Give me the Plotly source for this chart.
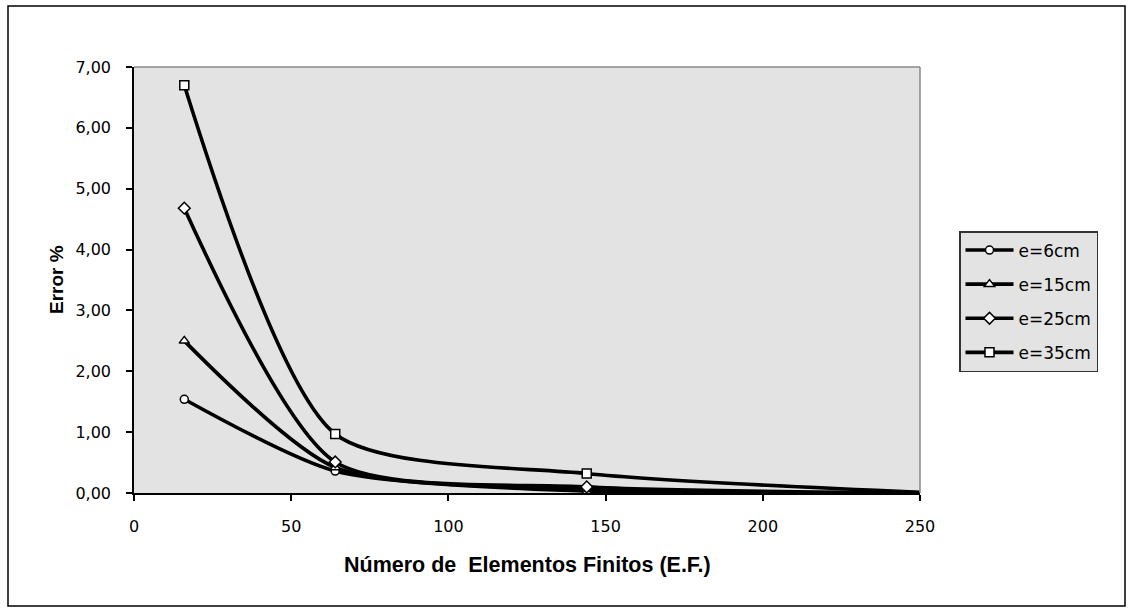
import plotly.graph_objects as go

# Data
n_elements = [16, 64, 144, 256]
err_6cm = [1.54, 0.36, 0.03, 0.0]
err_15cm = [2.50, 0.42, 0.06, 0.0]
err_25cm = [4.68, 0.51, 0.10, 0.0]
err_35cm = [6.70, 0.97, 0.32, 0.0]
series_names = ["e=6cm", "e=15cm", "e=25cm", "e=35cm"]
x_ticks = [0, 50, 100, 150, 200, 250]
y_ticks = [0, 1, 2, 3, 4, 5, 6, 7]
y_tick_labels = ["0,00", "1,00", "2,00", "3,00", "4,00", "5,00", "6,00", "7,00"]

W, H = 1133, 613
L, R, T, B = 134, 920, 67, 493
pw, ph = R - L, B - T

def px_x(p):
    return (p - L) / pw

def px_y(p):
    return (B - p) / ph

FONT = "DejaVu Sans"
TFONT = "Liberation Sans"
symbols = ["circle", "triangle-up", "diamond", "square"]
sizes = [8, 9, 9, 9]
series = [err_6cm, err_15cm, err_25cm, err_35cm]

fig = go.Figure()
for name, ys, sym, sz in zip(series_names, series, symbols, sizes):
    fig.add_trace(go.Scatter(
        x=n_elements, y=ys, name=name, mode="lines+markers",
        line=dict(color="black", width=3.6, shape="spline", smoothing=0.7),
        marker=dict(symbol=sym, size=sz, color="white",
                    line=dict(color="black", width=1.5)),
        legendgroup=name,
        cliponaxis=True,
    ))

fig.update_layout(
    width=W, height=H,
    margin=dict(l=L, r=W - R, t=T, b=H - B, pad=0),
    paper_bgcolor="white",
    plot_bgcolor="#e3e3e3",
    font=dict(family=FONT, size=16, color="black"),
    showlegend=True,
    legend=dict(
        x=px_x(959), y=px_y(231), xanchor="left", yanchor="top",
        bgcolor="#e3e3e3", bordercolor="#333333", borderwidth=1.5,
        font=dict(family=FONT, size=17, color="black"),
        itemwidth=48, tracegroupgap=9,
    ),
    xaxis=dict(
        range=[0, 250], tickvals=x_ticks, ticktext=[str(v) for v in x_ticks],
        showgrid=False, zeroline=False, showline=True, linecolor="black",
        linewidth=1.5, ticks="outside", ticklen=6, tickcolor="black",
        tickwidth=1.5, ticklabelstandoff=12,
        tickfont=dict(family=FONT, size=16),
    ),
    yaxis=dict(
        range=[0, 7], tickvals=y_ticks, ticktext=y_tick_labels,
        showgrid=False, zeroline=False, showline=True, linecolor="black",
        linewidth=1.5, ticks="outside", ticklen=6, tickcolor="black",
        tickwidth=1.5, ticklabelstandoff=12,
        tickfont=dict(family=FONT, size=16),
    ),
    shapes=[
        # outer chart border
        dict(type="rect", xref="paper", yref="paper",
             x0=px_x(8), x1=px_x(1125), y0=px_y(606), y1=px_y(6),
             line=dict(color="black", width=1.5), fillcolor="rgba(0,0,0,0)",
             layer="below"),
        # plot area border (top/right gray)
        dict(type="line", xref="paper", yref="paper",
             x0=0, x1=1, y0=1, y1=1, line=dict(color="#888888", width=1.5)),
        dict(type="line", xref="paper", yref="paper",
             x0=1, x1=1, y0=0, y1=1, line=dict(color="#888888", width=1.5)),
    ],
    annotations=[
        dict(text="<b>Número de  Elementos Finitos (E.F.)</b>", xref="paper", yref="paper",
             x=0.5, y=px_y(565), xanchor="center", yanchor="middle",
             showarrow=False, font=dict(family=TFONT, size=21.5)),
        dict(text="<b>Error %</b>", xref="paper", yref="paper",
             x=px_x(56), y=0.5, xanchor="center", yanchor="middle",
             textangle=-90, showarrow=False,
             font=dict(family=TFONT, size=19)),
    ],
)

fig.write_html("out.html")
